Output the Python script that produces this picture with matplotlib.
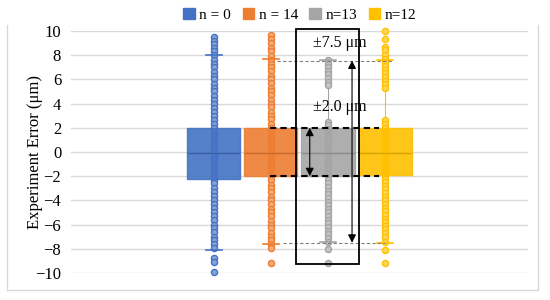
import matplotlib
matplotlib.use("Agg")
import matplotlib.pyplot as plt
from matplotlib.patches import Patch, Rectangle
from matplotlib.lines import Line2D

plt.rcParams["font.family"] = ["Liberation Serif", "DejaVu Serif"]
plt.rcParams["axes.unicode_minus"] = True

labels = ["n = 0", "n = 14", "n=13", "n=12"]
colors = ["#4472C4", "#ED7D31", "#A5A5A5", "#FFC000"]

points_n0 = [9.5, 9.2, 8.9, 8.6, 8.3, 8.0, 7.6, 7.3, 7.0, 6.6, 6.3, 6.0, 5.6, 5.3,
             5.0, 4.6, 4.3, 4.0, 3.6, 3.3, 3.0, 2.6, 2.3, 2.0, 1.6, 1.3, 1.0, 0.6,
             0.3, 0.0, -0.3, -0.6, -1.0, -1.3, -1.6, -2.0, -2.3, -2.6, -3.0, -3.3,
             -3.6, -4.0, -4.3, -4.6, -5.0, -5.3, -5.6, -6.0, -6.3, -6.6, -7.0,
             -7.3, -7.6, -7.9, -8.8, -9.1, -9.9]
points_n14 = [9.7, 9.3, 9.0, 8.6, 8.3, 7.9, 7.6, 7.3, 7.0, 6.7, 6.3, 6.0, 5.7, 5.3,
              5.0, 4.7, 4.3, 4.0, 3.7, 3.3, 3.0, 2.7, 2.3, 2.0, 1.7, 1.3, 1.0, 0.7,
              0.3, 0.0, -0.3, -0.7, -1.0, -1.3, -1.7, -2.0, -2.3, -2.7, -3.0, -3.3,
              -3.7, -4.0, -4.3, -4.7, -5.0, -5.3, -5.7, -6.0, -6.3, -6.7, -7.0,
              -7.3, -7.6, -7.9, -9.2]
points_n13 = [7.6, 7.3, 7.0, 6.7, 6.4, 6.1, 5.8, 5.5, 2.5, 2.2, 1.9, 1.6, 1.3, 1.0,
              0.7, 0.4, 0.1, -0.2, -0.5, -0.8, -1.1, -1.4, -1.7, -2.0, -2.3, -2.6,
              -2.9, -3.2, -3.5, -3.8, -4.1, -4.4, -4.7, -5.0, -5.3, -5.6, -5.9,
              -6.2, -6.5, -6.8, -7.1, -7.4, -8.0, -9.2]
points_n12 = [10.0, 9.3, 8.7, 8.4, 8.0, 7.7, 7.4, 7.1, 6.8, 6.5, 6.2, 5.9, 5.6, 5.3,
              2.6, 2.3, 2.0, 1.7, 1.4, 1.1, 0.8, 0.5, 0.2, -0.1, -0.4, -0.7, -1.0,
              -1.3, -1.6, -1.9, -2.2, -2.5, -2.8, -3.1, -3.4, -3.7, -4.0, -4.3,
              -4.6, -4.9, -5.2, -5.5, -5.8, -6.1, -6.4, -6.7, -7.0, -7.4, -8.1, -9.2]
points = [points_n0, points_n14, points_n13, points_n12]

# box statistics as shown in the chart
q1s = [-2.25, -2.0, -2.0, -1.9]
q3s = [1.95, 2.0, 2.0, 2.0]
medians = [-0.1, -0.05, -0.05, -0.05]
whisker_low = [-8.1, -7.6, -7.4, -7.5]
whisker_high = [8.0, 7.7, 7.6, 7.6]

y_ticks = [-10, -8, -6, -4, -2, 0, 2, 4, 6, 8, 10]


def lighten(hex_color, amount):
    rgb = matplotlib.colors.to_rgb(hex_color)
    return tuple(c + (1 - c) * amount for c in rgb)


fig = plt.figure(figsize=(5.5, 3.0), dpi=100)
ax = fig.add_axes([0.129, 0.09, 0.831, 0.807])

positions = list(range(len(labels)))
stats = []
for i in positions:
    stats.append({
        "med": medians[i], "q1": q1s[i], "q3": q3s[i],
        "whislo": whisker_low[i], "whishi": whisker_high[i], "fliers": [],
    })

bp = ax.bxp(stats, positions=positions, widths=0.93, patch_artist=True,
            showfliers=False, manage_ticks=False)
for i, box in enumerate(bp["boxes"]):
    box.set_facecolor(colors[i])
    box.set_edgecolor(colors[i])
    box.set_alpha(0.9)
    box.set_zorder(3)
for i, med in enumerate(bp["medians"]):
    med.set_color(matplotlib.colors.to_hex(tuple(c * 0.85 for c in matplotlib.colors.to_rgb(colors[i]))))
    med.set_linewidth(1.0)
    med.set_zorder(4)
for i in positions:
    for w in bp["whiskers"][2 * i:2 * i + 2]:
        w.set_color(colors[i])
        w.set_linewidth(0.8)
    for c in bp["caps"][2 * i:2 * i + 2]:
        c.set_color(colors[i])
        c.set_linewidth(1.2)
        c.set_xdata([i - 0.14, i + 0.14])
        c.set_zorder(4)

for i, vals in enumerate(points):
    ax.plot([i] * len(vals), vals, "o", ms=4.4, mew=1.0,
            mec=colors[i], mfc=lighten(colors[i], 0.35), zorder=2, clip_on=False)

ax.set_xlim(-2.5, 5.5)
ax.set_ylim(-10, 10)
ax.set_yticks(y_ticks)
ax.set_yticklabels([f"{t}".replace("-", "\u2212") for t in y_ticks], fontsize=12)
ax.set_xticks([])
ax.tick_params(axis="y", length=0, pad=7)
ax.grid(axis="y", color="#D9D9D9", linewidth=1.0, zorder=0)
ax.set_axisbelow(True)
for spine in ax.spines.values():
    spine.set_visible(False)
ax.set_ylabel("Experiment Error (\u03bcm)", fontsize=12)
ax.yaxis.set_label_coords(-0.062, 0.5)

# annotations
ax.add_patch(Rectangle((1.44, -9.26), 1.1, 19.43, fill=False, edgecolor="black",
                       linewidth=1.3, zorder=6, clip_on=False))
ax.plot([0.98, 2.89], [2, 2], color="black", lw=1.5, ls=(0, (3, 2)), zorder=5)
ax.plot([0.98, 2.89], [-2, -2], color="black", lw=1.5, ls=(0, (3, 2)), zorder=5)
ax.plot([1.1, 3.12], [7.55, 7.55], color="#808080", lw=0.8, ls=(0, (3, 2)), zorder=5)
ax.plot([1.21, 3.0], [-7.5, -7.5], color="#808080", lw=0.8, ls=(0, (3, 2)), zorder=5)
ax.annotate("", xy=(1.68, -2), xytext=(1.68, 2),
            arrowprops=dict(arrowstyle="<|-|>", color="black", lw=0.8, mutation_scale=12,
                            shrinkA=0, shrinkB=0), zorder=7)
ax.annotate("", xy=(2.42, -7.5), xytext=(2.42, 7.55),
            arrowprops=dict(arrowstyle="<|-|>", color="black", lw=0.8, mutation_scale=12,
                            shrinkA=0, shrinkB=0), zorder=7)
ax.text(2.21, 9.0, "\u00b17.5 \u03bcm", ha="center", va="center", fontsize=11.5, zorder=7)
ax.text(2.21, 3.7, "\u00b12.0 \u03bcm", ha="center", va="center", fontsize=11.5, zorder=7)

handles = [Patch(facecolor=c, edgecolor=c) for c in colors]
fig.legend(handles, labels, loc="center", bbox_to_anchor=(0.545, 0.95), ncol=4,
           frameon=False, fontsize=11, handlelength=0.75, handleheight=0.75,
           handletextpad=0.3, columnspacing=0.75)

# outer chart border
border = "#D9D9D9"
fig.add_artist(Line2D([0.013, 0.013], [0.033, 0.917], color=border, lw=1.0))
fig.add_artist(Line2D([0.978, 0.978], [0.033, 0.917], color=border, lw=1.0))
fig.add_artist(Line2D([0.013, 0.978], [0.033, 0.033], color=border, lw=1.0))

fig.savefig("out.png", dpi=100)
